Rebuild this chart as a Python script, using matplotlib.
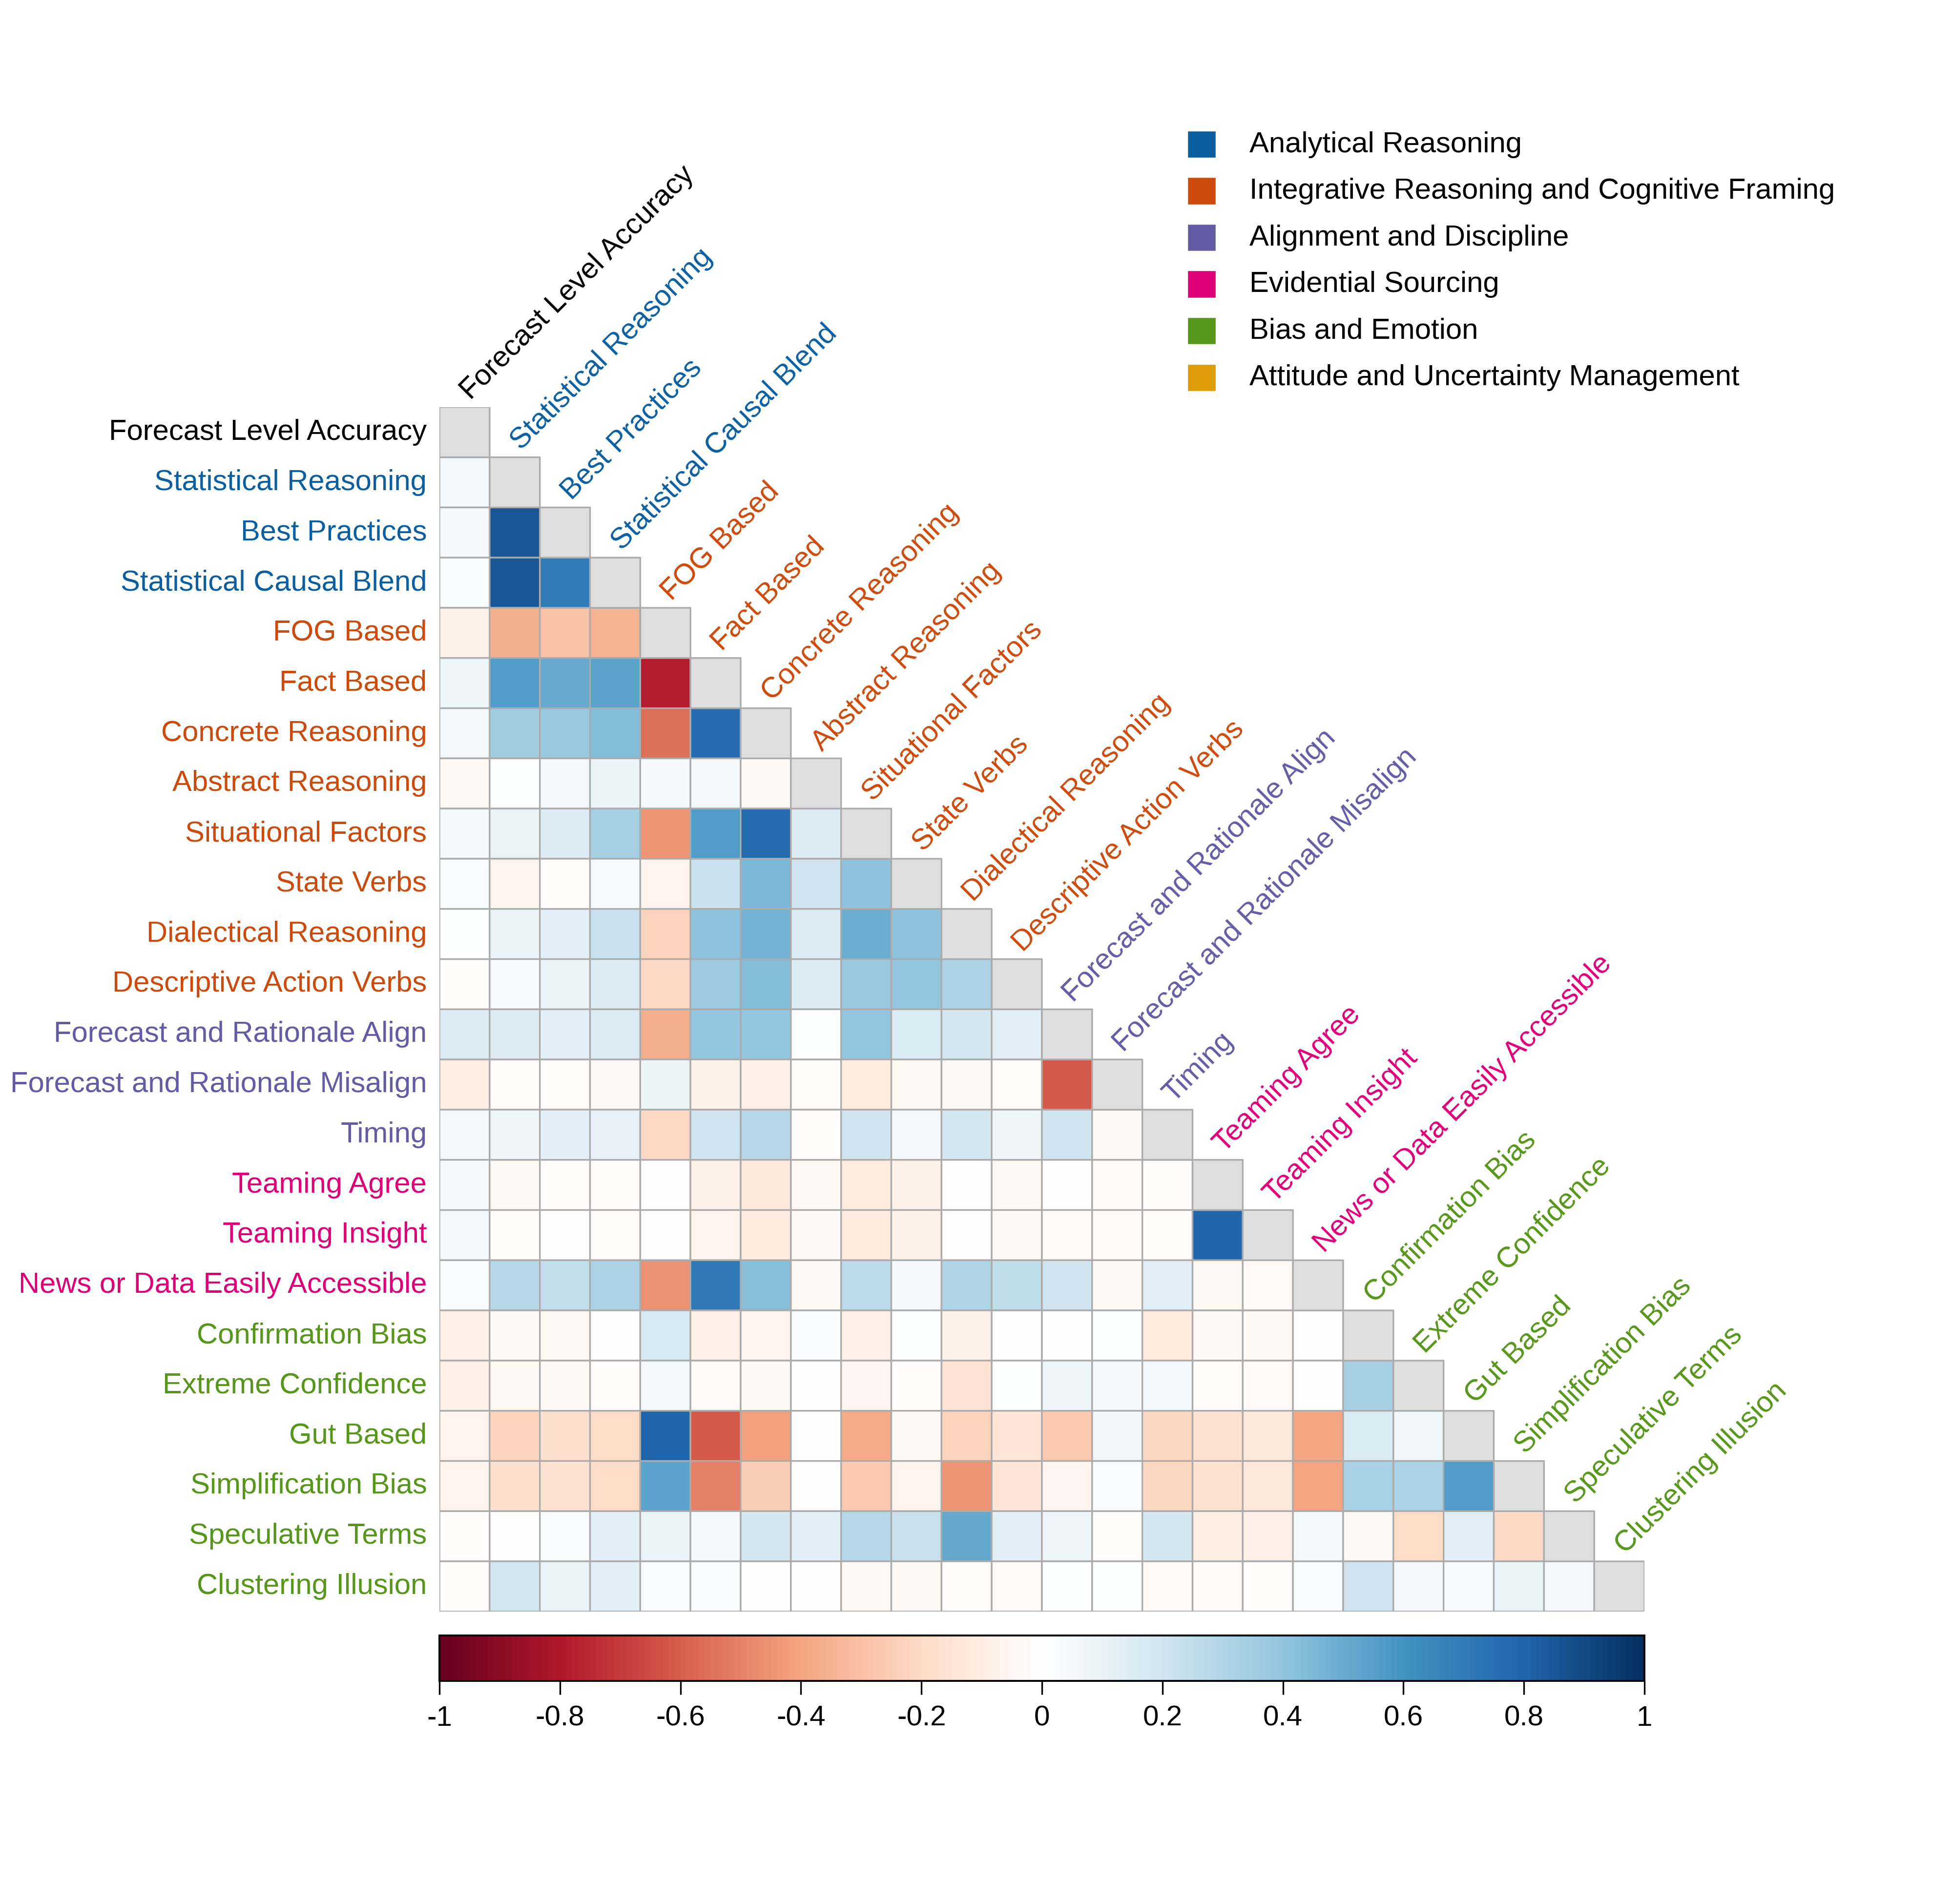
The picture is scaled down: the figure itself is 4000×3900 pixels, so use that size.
import numpy as np
import matplotlib
matplotlib.use("Agg")
import matplotlib.pyplot as plt
from matplotlib.colors import LinearSegmentedColormap, ListedColormap, Normalize
from matplotlib.cm import ScalarMappable
from matplotlib.patches import Rectangle

plt.rcParams["font.family"] = ["Liberation Sans", "DejaVu Sans"]

# ---------------- data ----------------
labels = [
    "Forecast Level Accuracy", "Statistical Reasoning", "Best Practices",
    "Statistical Causal Blend", "FOG Based", "Fact Based", "Concrete Reasoning",
    "Abstract Reasoning", "Situational Factors", "State Verbs",
    "Dialectical Reasoning", "Descriptive Action Verbs",
    "Forecast and Rationale Align", "Forecast and Rationale Misalign", "Timing",
    "Teaming Agree", "Teaming Insight", "News or Data Easily Accessible",
    "Confirmation Bias", "Extreme Confidence", "Gut Based",
    "Simplification Bias", "Speculative Terms", "Clustering Illusion",
]
# group index per label (-1 = outcome, drawn black)
label_group = [-1, 0, 0, 0, 1, 1, 1, 1, 1, 1, 1, 1, 2, 2, 2, 3, 3, 3, 4, 4, 4, 4, 4, 4]

group_names = [
    "Analytical Reasoning",
    "Integrative Reasoning and Cognitive Framing",
    "Alignment and Discipline",
    "Evidential Sourcing",
    "Bias and Emotion",
    "Attitude and Uncertainty Management",
]
group_colors = ["#0B5EA0", "#CC4A0C", "#635BA5", "#DE0078", "#56961A", "#DE9C0A"]

# lower triangle of the correlation matrix, row by row (diagonal excluded)
lower_rows = [
    [],
    [0.05],
    [0.04, 0.85],
    [0.02, 0.85, 0.70],
    [-0.08, -0.37, -0.30, -0.34],
    [0.07, 0.56, 0.50, 0.53, -0.78],
    [0.05, 0.35, 0.37, 0.43, -0.55, 0.77],
    [-0.04, 0.01, 0.04, 0.08, 0.04, 0.05, -0.04],
    [0.04, 0.09, 0.15, 0.33, -0.45, 0.57, 0.77, 0.14],
    [0.02, -0.07, -0.02, 0.03, -0.07, 0.22, 0.45, 0.20, 0.40],
    [0.01, 0.09, 0.12, 0.22, -0.23, 0.40, 0.47, 0.14, 0.49, 0.40],
    [-0.02, 0.03, 0.08, 0.15, -0.21, 0.36, 0.43, 0.14, 0.37, 0.39, 0.31],
    [0.15, 0.15, 0.13, 0.15, -0.37, 0.39, 0.39, 0.01, 0.39, 0.16, 0.18, 0.12],
    [-0.10, -0.02, -0.02, -0.04, 0.08, -0.08, -0.09, -0.02, -0.11, -0.05, -0.04, -0.02, -0.62],
    [0.04, 0.07, 0.12, 0.10, -0.21, 0.20, 0.28, -0.02, 0.20, 0.04, 0.18, 0.07, 0.20, -0.04],
    [0.04, -0.05, -0.02, -0.02, -0.01, -0.08, -0.13, -0.05, -0.11, -0.08, 0.00, -0.05, -0.01,
     -0.03, -0.02],
    [0.04, -0.02, -0.01, -0.02, 0.00, -0.07, -0.12, -0.04, -0.12, -0.08, -0.01, -0.04, -0.03,
     -0.03, -0.02, 0.79],
    [0.02, 0.28, 0.24, 0.31, -0.46, 0.71, 0.42, -0.04, 0.26, 0.04, 0.30, 0.25, 0.20,
     -0.04, 0.13, -0.05, -0.03],
    [-0.09, -0.04, -0.05, -0.01, 0.17, -0.09, -0.07, 0.02, -0.09, 0.01, -0.08, 0.00, 0.00,
     0.01, -0.12, -0.05, -0.04, 0.00],
    [-0.09, -0.05, -0.04, -0.02, 0.05, -0.03, -0.04, 0.00, -0.06, -0.02, -0.16, 0.01, 0.07,
     0.04, 0.05, -0.02, -0.03, 0.00, 0.33],
    [-0.07, -0.23, -0.18, -0.20, 0.80, -0.62, -0.42, 0.00, -0.38, -0.04, -0.23, -0.15, -0.27,
     0.06, -0.22, -0.17, -0.13, -0.40, 0.16, 0.06],
    [-0.07, -0.18, -0.17, -0.20, 0.53, -0.51, -0.26, 0.00, -0.27, -0.07, -0.45, -0.15, -0.06,
     0.02, -0.22, -0.17, -0.13, -0.40, 0.32, 0.31, 0.56],
    [-0.02, 0.00, 0.02, 0.12, 0.09, 0.05, 0.18, 0.12, 0.28, 0.22, 0.51, 0.12, 0.07,
     -0.02, 0.18, -0.10, -0.09, 0.05, -0.04, -0.20, 0.13, -0.21],
    [-0.02, 0.19, 0.09, 0.12, 0.02, 0.02, 0.00, 0.00, -0.05, -0.04, -0.02, -0.03, 0.01,
     0.01, -0.03, -0.03, -0.02, 0.02, 0.20, 0.05, 0.03, 0.09, 0.05],
]

cbar_ticks = [-1, -0.8, -0.6, -0.4, -0.2, 0, 0.2, 0.4, 0.6, 0.8, 1]

# ---------------- matrix ----------------
n = len(labels)
mat = np.full((n, n), np.nan)
for i, row in enumerate(lower_rows):
    for j, v in enumerate(row):
        mat[i, j] = v
diag = np.full((n, n), np.nan)
np.fill_diagonal(diag, 1.0)

cmap = LinearSegmentedColormap.from_list(
    "corr_rdbu",
    ["#67001F", "#B2182B", "#D6604D", "#F4A582", "#FDDBC7", "#FFFFFF",
     "#D1E5F0", "#92C5DE", "#4393C3", "#2166AC", "#053061"], N=200)
norm = Normalize(vmin=-1, vmax=1)

def lab_color(k):
    g = label_group[k]
    return "black" if g < 0 else group_colors[g]

# ---------------- figure ----------------
fig = plt.figure(figsize=(10, 9.75), dpi=400)
ax = fig.add_axes([0.225, 0.1536, 0.617, 0.6326])

grid_col = "#ABABAB"
ax.pcolor(np.ma.masked_invalid(mat), cmap=cmap, norm=norm,
          edgecolors=grid_col, linewidth=0.6)
ax.pcolor(np.ma.masked_invalid(diag), cmap=ListedColormap(["#DEDEDE"]),
          edgecolors=grid_col, linewidth=0.6)
ax.set_xlim(0, n)
ax.set_ylim(n, 0)
ax.axis("off")

fs = 10.75
for i in range(n):
    ax.text(-0.25, i + 0.5, labels[i], ha="right", va="center",
            fontsize=fs, color=lab_color(i))
    ax.text(i + 0.62, i - 0.13, labels[i], ha="left", va="baseline",
            rotation=45, rotation_mode="anchor", fontsize=fs, color=lab_color(i))

# colorbar
cax = fig.add_axes([0.225, 0.1172, 0.617, 0.0238])
sm = ScalarMappable(norm=norm, cmap=cmap)
cb = fig.colorbar(sm, cax=cax, orientation="horizontal", ticks=cbar_ticks)
cb.ax.set_xticklabels([f"{round(t, 1):g}" for t in cbar_ticks])
cb.ax.tick_params(labelsize=10.5, length=5, width=0.6, direction="out", pad=4)
cb.outline.set_linewidth(0.7)

# legend (manual)
leg_y0, leg_step = 0.9241, 0.0245
for k, (name, col) in enumerate(zip(group_names, group_colors)):
    yc = leg_y0 - k * leg_step
    fig.patches.append(Rectangle((0.609, yc - 0.0062), 0.0128, 0.0124,
                                 transform=fig.transFigure, color=col))
    fig.text(0.6397, yc, name, va="center", ha="left", fontsize=fs)

fig.savefig("out.png", dpi=400, facecolor="white")
